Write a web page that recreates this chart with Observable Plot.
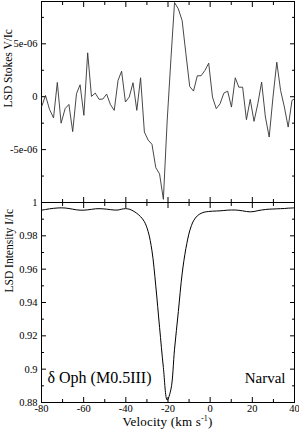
<!DOCTYPE html>
<html><head><meta charset="utf-8">
<script src="https://cdn.jsdelivr.net/npm/d3@7"></script>
<script src="https://cdn.jsdelivr.net/npm/@observablehq/plot@0.6"></script>
<style>
html,body{margin:0;padding:0;background:#fff;}
#chart{position:relative;width:299px;height:432px;font-family:"Liberation Serif","Times New Roman","DejaVu Serif",serif;color:#000;}
#chart svg{position:absolute;left:0;top:0;}
#xlabel{position:absolute;top:414px;left:41px;width:253px;text-align:center;font-size:13px;line-height:15px;white-space:nowrap;letter-spacing:0.2px;}
#xlabel sup{font-size:8px;vertical-align:5px;line-height:0;}
</style></head><body><div id="chart"><div id="xlabel">Velocity (km s<sup>-1</sup>)</div></div>
<script>
// Velocity grid (km/s)
const velocity = [-80,-78.1,-76.2,-74.3,-72.5,-70.7,-68.8,-67.0,-65.2,-63.4,-61.7,-59.9,-58.1,-56.3,-54.5,-52.7,-50.9,-49.1,-47.3,-45.5,-43.7,-42.0,-40.2,-38.4,-36.6,-34.8,-33.0,-31.2,-29.4,-27.6,-25.8,-24.0,-22.2,-20.4,-18.6,-16.9,-15.1,-13.3,-11.5,-9.7,-7.9,-6.1,-4.3,-2.5,-0.7,1.1,2.9,4.7,6.5,8.3,10.1,11.9,13.6,15.4,17.2,19.0,20.8,22.6,24.4,26.2,28.0,29.8,31.6,33.4,35.2,37.0,38.8,40.0];
// Stokes V/Ic in units of 1e-6
const stokesV = [-0.98,0.12,-1.2,-2.0,1.35,-2.5,-1.13,-0.73,-3.3,0.28,1.13,-1.76,4.15,0.03,0.34,-0.25,-0.22,0.25,-0.75,-1.29,1.54,2.41,-0.5,-0.04,1.32,-1.29,1.79,-3.34,-4.1,-4.5,-6.7,-7.3,-9.7,-2.3,3.6,8.9,8.3,7.2,4.05,0.97,0.53,1.98,1.98,2.48,3.17,-0.04,-1.13,-0.66,0.34,0.53,-0.98,1.79,0.9,0.9,-2.17,-0.25,-2.33,-0.66,1.38,-1.92,-3.81,-0.04,3.26,0.59,-0.98,-2.87,-0.35,-0.19];
const stokesUnit = 1e-6;
// Intensity I/Ic
const intensity = [0.9954,0.9958,0.9962,0.9965,0.9967,0.9968,0.9967,0.9964,0.9960,0.9956,0.9954,0.9954,0.9956,0.9959,0.9962,0.9963,0.9962,0.9960,0.9957,0.9955,0.9955,0.9960,0.9963,0.9960,0.9950,0.9935,0.9915,0.9885,0.9825,0.9710,0.9500,0.9251,0.9010,0.8815,0.8880,0.9120,0.9345,0.9572,0.9725,0.9830,0.9890,0.9920,0.9935,0.9943,0.9946,0.9948,0.9949,0.9950,0.9952,0.9954,0.9955,0.9955,0.9953,0.9950,0.9946,0.9944,0.9946,0.9951,0.9955,0.9958,0.9960,0.9961,0.9962,0.9963,0.9964,0.9966,0.9967,0.9968];

const xMajor = [-80,-60,-40,-20,0,20,40];
const xMinor = [-70,-50,-30,-10,10,30];
const vMajor = [-5e-6,0,5e-6];
const vMinor = [-7.5e-6,-2.5e-6,2.5e-6,7.5e-6];
const iMajor = [0.88,0.9,0.92,0.94,0.96,0.98,1];
const iMinor = [0.89,0.91,0.93,0.95,0.97,0.99];
const starLabel = "δ Oph (M0.5III)";
const instrument = "Narval";
const yLabelTop = "LSD Stokes V/Ic";
const yLabelBottom = "LSD Intensity I/Ic";

const vData = velocity.map((v,i)=>({v, V: stokesV[i]*stokesUnit}));
const iData = velocity.map((v,i)=>({v, I: intensity[i]}));

const fmtE = d => d === 0 ? "0" : d.toExponential().replace(/e([+-])(\d)$/, "e$10$2");
const fmtN = d => String(d);
const style = {background:"transparent", color:"black", fontFamily:"'Liberation Serif', 'Times New Roman', 'DejaVu Serif', serif", fontSize:"10.5px", overflow:"visible"};

function frameTicks(yMajor, yMinor) {
  return [
    Plot.axisY(yMinor, {anchor:"left", tickSize:-3, fill:"none"}),
    Plot.axisY(yMajor, {anchor:"right", tickSize:-5, fill:"none"}),
    Plot.axisY(yMinor, {anchor:"right", tickSize:-3, fill:"none"}),
    Plot.axisX(xMajor, {anchor:"top", tickSize:-5, fill:"none"}),
    Plot.axisX(xMinor, {anchor:"top", tickSize:-3, fill:"none"}),
    Plot.axisX(xMinor, {anchor:"bottom", tickSize:-3, fill:"none"})
  ];
}

const topPlot = Plot.plot({
  width:299, height:204, marginLeft:41, marginRight:5, marginTop:1, marginBottom:2,
  style,
  x:{domain:[-80,40]}, y:{domain:[-1e-5, 9e-6]},
  marks:[
    Plot.axisY(vMajor, {anchor:"left", tickSize:-5, tickPadding:9, tickFormat:fmtE, label:null}),
    ...frameTicks(vMajor, vMinor),
    Plot.axisX(xMajor, {anchor:"bottom", tickSize:-5, fill:"none"}),
    Plot.frame({stroke:"black"}),
    Plot.line(vData, {x:"v", y:"V", stroke:"#333", strokeWidth:0.9}),
    Plot.text([yLabelTop], {text:d=>d, frameAnchor:"left", rotate:-90, dx:-33.5, dy:5.5, fontSize:11.5})
  ]
});

const bottomPlot = Plot.plot({
  width:299, height:414, marginLeft:41, marginRight:5, marginTop:202, marginBottom:12,
  style,
  x:{domain:[-80,40]}, y:{domain:[0.88, 1]},
  marks:[
    Plot.axisY(iMajor, {anchor:"left", tickSize:-5, tickPadding:9, tickFormat:fmtN, label:null}),
    ...frameTicks(iMajor, iMinor),
    Plot.axisX(xMajor, {anchor:"bottom", tickSize:-5, tickPadding:7, tickFormat:fmtN, label:null}),
    Plot.frame({stroke:"black"}),
    Plot.line(iData, {x:"v", y:"I", stroke:"black", strokeWidth:1, curve:"catmull-rom"}),
    Plot.text([yLabelBottom], {text:d=>d, frameAnchor:"left", rotate:-90, dx:-32, dy:-10, fontSize:11.5}),
    Plot.text([starLabel], {text:d=>d, frameAnchor:"bottom-left", textAnchor:"start", dx:6, dy:-20, fontSize:16}),
    Plot.text([instrument], {text:d=>d, frameAnchor:"bottom-right", textAnchor:"end", dx:-9, dy:-20, fontSize:15})
  ]
});

const chart = document.getElementById("chart");
chart.insertBefore(bottomPlot, chart.firstChild);
chart.insertBefore(topPlot, chart.firstChild);
</script>
</body></html>
